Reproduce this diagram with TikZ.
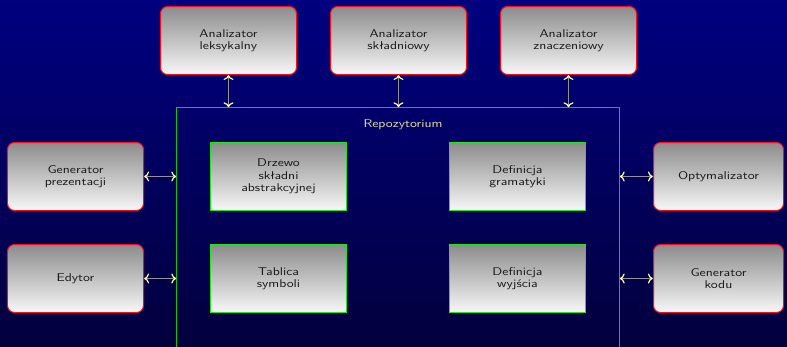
\documentclass[tikz,border=0pt]{standalone}
\usetikzlibrary{arrows.meta}
\definecolor{navytop}{RGB}{0,0,128}
\definecolor{navybot}{RGB}{2,0,60}
\definecolor{boxred}{RGB}{250,10,30}
\definecolor{boxgreen}{RGB}{30,230,30}
\definecolor{repogreen}{RGB}{10,200,10}
\definecolor{pale}{RGB}{255,255,170}
\definecolor{palelabel}{RGB}{225,225,160}
\begin{document}
\begin{tikzpicture}[x=1bp,y=-1bp,
  tool/.style={draw=boxred,line width=1bp,rounded corners=7bp,top color=black!45,bottom color=black!3,text=black!90,font=\sffamily\fontsize{11.3}{12.5}\selectfont,align=center,xscale=1.25,minimum width=108.8bp,minimum height=68bp,inner sep=2pt},
  part/.style={tool,draw=boxgreen,line width=1.4bp,sharp corners},
  repo/.style={minimum width=443bp,minimum height=253bp,inner sep=0pt},
  link/.style={draw=gray!85,line width=1bp,>={Computer Modern Rightarrow[color=pale,length=5bp,width=10bp,line width=1.2bp]},<->}]
\useasboundingbox (0,0) rectangle (787,346);
\shade[top color=navytop,bottom color=navybot] (0,0) rectangle (787,346);

\node[repo] (repo) at (398,234) {};
\node[text=palelabel,font=\sffamily\fontsize{11.3}{12.5}\selectfont,xscale=1.25] (title) at (403,125) {Repozytorium};

\node[tool] (lex) at (228.5,40.5) {Analizator\\leksykalny};
\node[tool] (syn) at (398.5,40.5) {Analizator\\składniowy};
\node[tool] (sem) at (568.5,40.5) {Analizator\\znaczeniowy};

\node[tool] (pres) at (75.5,176.5) {Generator\\prezentacji};
\node[tool] (edit) at (75.5,278.5) {Edytor};
\node[tool,minimum width=104bp] (opt) at (718.5,176.5) {Optymalizator};
\node[tool,minimum width=104bp] (code) at (718.5,278.5) {Generator\\kodu};

\node[part] (ast) at (278.5,176.5) {Drzewo\\składni\\abstrakcyjnej};
\node[part] (gram) at (517.5,176.5) {Definicja\\gramatyki};
\node[part] (sym) at (278.5,278.5) {Tablica\\symboli};
\node[part] (out) at (517.5,278.5) {Definicja\\wyjścia};

\draw[link] (lex.south) -- (lex.south |- repo.north);
\draw[link] (syn.south) -- (syn.south |- repo.north);
\draw[link] (sem.south) -- (sem.south |- repo.north);

\draw[link] (pres.east) -- (pres.east -| repo.west);
\draw[link] (edit.east) -- (edit.east -| repo.west);
\draw[link] (opt.west) -- (opt.west -| repo.east);
\draw[link] (code.west) -- (code.west -| repo.east);

% repository frame, open at the bottom edge of the slide
\draw[repogreen,line width=1.5bp] (repo.west |- 0,350) -- (repo.north west) -- (repo.north east) -- (repo.east |- 0,350);

\end{tikzpicture}
\end{document}
